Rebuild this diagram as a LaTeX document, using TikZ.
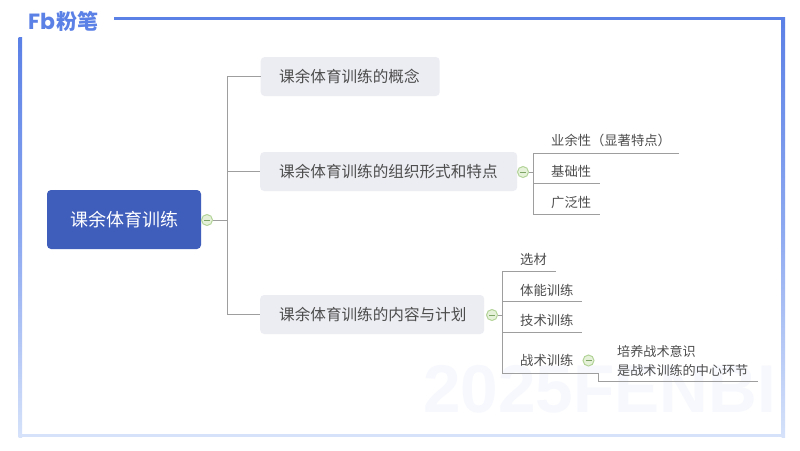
\documentclass[tikz,border=0pt]{standalone}
\usepackage{fontspec}
\setmainfont{Noto Sans CJK SC}
\newfontfamily\wmfont{Liberation Sans}[BoldFont={Liberation Sans Bold}]
\newfontfamily\logofont{Poppins}[BoldFont={Poppins Bold}]
\definecolor{framec}{HTML}{5B80E6}
\definecolor{framem}{HTML}{8CA8F0}
\definecolor{framel}{HTML}{D6E2FA}
\definecolor{linec}{HTML}{9E9E9E}
\definecolor{textc}{HTML}{4D4D4D}
\definecolor{rootc}{HTML}{3F5DBB}
\definecolor{boxc}{HTML}{ECEDF3}
\definecolor{wmc}{HTML}{F6F8FD}
\definecolor{togf}{HTML}{E6F1DA}
\definecolor{togd}{HTML}{B3D498}
\definecolor{togm}{HTML}{7FA566}
\tikzset{
  x=1pt,y=-1pt,
  rootbox/.style={draw=none,fill=rootc,rounded corners=4pt,text=white,font=\fontsize{18}{20}\selectfont,minimum width=154pt,minimum height=59pt,inner sep=0pt},
  topicbox/.style={draw=none,fill=boxc,rounded corners=4pt,text=textc,font=\fontsize{15.6}{18}\selectfont,minimum height=39pt,inner sep=0pt,anchor=west},
  subtext/.style={text=textc,font=\fontsize{13.3}{17}\selectfont,inner sep=0pt,anchor=base west},
  conn/.style={draw=linec,line width=1pt},
  toggle/.style={circle,draw=togd,fill=togf,line width=1pt,minimum size=11pt,inner sep=0pt,path picture={\draw[togm,line width=.8pt] ([xshift=-3pt]path picture bounding box.center) -- ([xshift=3pt]path picture bounding box.center);}},
  vframe/.style={top color=framec,bottom color=framel,middle color=framem}
}
\begin{document}
\begin{tikzpicture}
\useasboundingbox (0,0) rectangle (800,450);
\fill[white] (0,0) rectangle (800,450);
% watermark
\node[anchor=base west,inner sep=0pt,text=wmc,font=\wmfont\bfseries\fontsize{67.5}{68}\selectfont] (wm) at (423,412) {2025FENBI};
% frame
\fill[framec] (114,16.5) rectangle (785,20);
\shade[vframe] (18.5,37) rectangle (22,437);
\shade[vframe] (781.5,17) rectangle (785,437);
\fill[framel] (18.5,433.5) rectangle (785,437);
% logo
\node[anchor=base west,inner sep=0pt,text=framec,font=\logofont\bfseries\fontsize{22}{22}\selectfont] (logoa) at (28,29.5) {Fb};
\node[anchor=base west,inner sep=0pt,text=framec,font=\bfseries\fontsize{21}{21}\selectfont] (logob) at (56.5,29) {粉笔};
% nodes
\node[rootbox] (root) at (124,219.5) {课余体育训练};
\node[topicbox,minimum width=179pt,text width=179pt] (t1) at (260.5,76.5) {\hspace{18.5pt}课余体育训练的概念};
\node[topicbox,minimum width=257pt,text width=257pt] (t2) at (260,171.5) {\hspace{19pt}课余体育训练的组织形式和特点};
\node[topicbox,minimum width=224pt,text width=224pt] (t3) at (260,314.5) {\hspace{19pt}课余体育训练的内容与计划};
\node[toggle] (tg0) at (207,220) {};
\node[toggle] (tg2) at (523,172) {};
\node[toggle] (tg3) at (492,315) {};
\node[toggle] (tg4) at (588.5,360.5) {};
% root branches
\coordinate (j0) at (227,220);
\draw[conn] (tg0) -- (j0);
\draw[conn] (j0) |- (t1.west);
\draw[conn] (j0) -- (t2.west -| j0) -- (t2.west);
\draw[conn] (j0) |- (t3.west);
% level-2 group A
\node[subtext] (a1) at (551,145) {业余性（显著特点）};
\node[subtext] (a2) at (551,176) {基础性};
\node[subtext] (a3) at (551,207) {广泛性};
\coordinate (a1r) at (679,153);
\coordinate (a2r) at (600,183.5);
\coordinate (a3r) at (600,214.5);
\coordinate (ja) at (533,172);
\draw[conn] (tg2) -- (ja);
\draw[conn] (a1r) -- (ja |- a1r) -- (ja |- a3r) -- (a3r);
\draw[conn] (ja |- a2r) -- (a2r);
% level-2 group B
\node[subtext] (b1) at (520,264) {选材};
\node[subtext] (b2) at (520,295) {体能训练};
\node[subtext] (b3) at (520,325.5) {技术训练};
\node[subtext] (b4) at (520,365.5) {战术训练};
\coordinate (b1r) at (555.5,271.5);
\coordinate (b2r) at (582,301.5);
\coordinate (b3r) at (582,332.5);
\coordinate (b4r) at (598,373);
\coordinate (jb) at (502,315);
\coordinate (end) at (757.5,381.5);
\draw[conn] (tg3) -- (jb);
\draw[conn] (b1r) -- (jb |- b1r) -- (jb |- b4r) -- (b4r) -- (b4r |- end) -- (end);
\draw[conn] (jb |- b2r) -- (b2r);
\draw[conn] (jb |- b3r) -- (b3r);
% detail
\node[text=textc,font=\fontsize{13.1}{19}\selectfont,inner sep=0pt,anchor=west,align=left] (c1) at (617,360.5) {培养战术意识\\是战术训练的中心环节};
\end{tikzpicture}
\end{document}
